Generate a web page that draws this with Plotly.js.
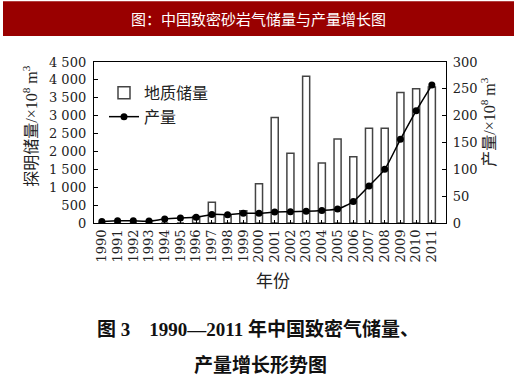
<!DOCTYPE html>
<html>
<head>
<meta charset="utf-8">
<script src="https://cdn.plot.ly/plotly-3.0.1.min.js"></script>
<style>html,body{margin:0;padding:0;background:#fff;}</style>
</head>
<body>
<div id="chart" style="width:520px;height:380px;"></div>
<script>
// Data
const years = ['1990','1991','1992','1993','1994','1995','1996','1997','1998','1999','2000',
               '2001','2002','2003','2004','2005','2006','2007','2008','2009','2010','2011'];
// 地质储量 (×10^8 m3), left axis
const reserves = [0,0,0,0,0,0,180,580,220,340,1100,2950,1950,4100,1680,2350,1850,2650,2650,3650,3750,3800];
// 产量 (×10^8 m3), right axis
const production = [3,4.3,4,3.5,7.5,9.5,10.6,16,15.5,18,18,20.5,21,22,23.5,26,40,69,100,156,209,257];

// left axis tick labels
const leftTickVals = [0,500,1000,1500,2000,2500,3000,3500,4000,4500];
const leftTickText = ['0','500','1 000','1 500','2 000','2 500','3 000','3 500','4 000','4 500'];
const rightTickVals = [0,50,100,150,200,250,300];

const seriesNames = ['地质储量', '产量'];
const bannerText = '图：中国致密砂岩气储量与产量增长图';
const captionLine1 = '图 3　1990—2011 年中国致密气储量、';
const captionLine2 = '产量增长形势图';
const leftTitle = '探明储量/×10<sup>8</sup> m<sup>3</sup>';
const rightTitle = '产量/×10<sup>8</sup> m<sup>3</sup>';
const xTitle = '年份';

// layout geometry (pixels)
const W = 520, H = 380;
const L = 94, R = 446, T = 62, B = 223.5;
const px = x => (x - L) / (R - L);
const py = y => (B - y) / (B - T);

const serif = 'DejaVu Serif, Liberation Serif, serif';
const cjk = 'Liberation Serif, Noto Sans CJK SC, serif';

const traces = [
  {
    type: 'bar', name: seriesNames[0], x: years, y: reserves, width: 0.45,
    marker: {color: '#ffffff', line: {color: '#444444', width: 1.5}},
    yaxis: 'y'
  },
  {
    type: 'scatter', mode: 'lines+markers', name: seriesNames[1], x: years, y: production,
    line: {color: '#000000', width: 1.5, shape: 'spline', smoothing: 0.6},
    marker: {color: '#000000', size: 7, symbol: 'circle'},
    yaxis: 'y2'
  }
];

const layout = {
  width: W, height: H,
  margin: {l: L, r: W - R, t: T, b: H - B, pad: 0},
  paper_bgcolor: '#ffffff', plot_bgcolor: '#ffffff',
  showlegend: true,
  legend: {
    x: px(104), y: py(76), xanchor: 'left', yanchor: 'top',
    bgcolor: 'rgba(0,0,0,0)', borderwidth: 0,
    font: {family: cjk, size: 16, color: '#222'},
    itemwidth: 30, tracegroupgap: 0
  },
  xaxis: {
    type: 'category', range: [-0.5, 21.9], dtick: 1, tickmode: 'linear',
    showline: true, linecolor: '#000', linewidth: 1.2, mirror: true,
    ticks: 'inside', ticklen: 3, tickcolor: '#000',
    tickangle: -90, tickfont: {family: serif, size: 13, color: '#222'},
    showgrid: false, zeroline: false, fixedrange: true
  },
  yaxis: {
    range: [0, 4500], tickmode: 'array', tickvals: leftTickVals, ticktext: leftTickText,
    showline: true, linecolor: '#000', linewidth: 1.2,
    ticks: 'inside', ticklen: 4, tickcolor: '#000',
    tickfont: {family: serif, size: 13, color: '#222'},
    ticklabelstandoff: 4,
    showgrid: false, zeroline: false
  },
  yaxis2: {
    range: [0, 300], tickmode: 'array', tickvals: rightTickVals, overlaying: 'y', side: 'right',
    showline: true, linecolor: '#000', linewidth: 1.2,
    ticks: 'inside', ticklen: 4, tickcolor: '#000',
    tickfont: {family: serif, size: 13, color: '#222'},
    ticklabelstandoff: 3,
    showgrid: false, zeroline: false
  },
  shapes: [
    {type: 'rect', xref: 'paper', yref: 'paper', x0: px(3), x1: px(514), y0: py(36), y1: py(1),
     fillcolor: '#990000', line: {width: 0}, layer: 'below'}
  ],
  annotations: [
    {text: bannerText, xref: 'paper', yref: 'paper', x: px(258), y: py(18.5),
     xanchor: 'center', yanchor: 'middle', showarrow: false,
     font: {family: 'Noto Sans CJK SC, sans-serif', size: 15, color: '#ffffff'}},
    {text: leftTitle, xref: 'paper', yref: 'paper', x: px(30), y: py(126),
     xanchor: 'center', yanchor: 'middle', showarrow: false, textangle: -90,
     font: {family: cjk, size: 16, color: '#222'}},
    {text: rightTitle, xref: 'paper', yref: 'paper', x: px(488), y: py(122),
     xanchor: 'center', yanchor: 'middle', showarrow: false, textangle: -90,
     font: {family: cjk, size: 16, color: '#222'}},
    {text: xTitle, xref: 'paper', yref: 'paper', x: px(273), y: py(282),
     xanchor: 'center', yanchor: 'middle', showarrow: false,
     font: {family: cjk, size: 17, color: '#222'}},
    {text: '<b>' + captionLine1 + '</b>', xref: 'paper', yref: 'paper', x: px(258), y: py(330),
     xanchor: 'center', yanchor: 'middle', showarrow: false,
     font: {family: cjk, size: 19, color: '#111'}},
    {text: '<b>' + captionLine2 + '</b>', xref: 'paper', yref: 'paper', x: px(260), y: py(366),
     xanchor: 'center', yanchor: 'middle', showarrow: false,
     font: {family: cjk, size: 19, color: '#111'}}
  ]
};

Plotly.newPlot('chart', traces, layout, {staticPlot: true, displayModeBar: false});
</script>
</body>
</html>
